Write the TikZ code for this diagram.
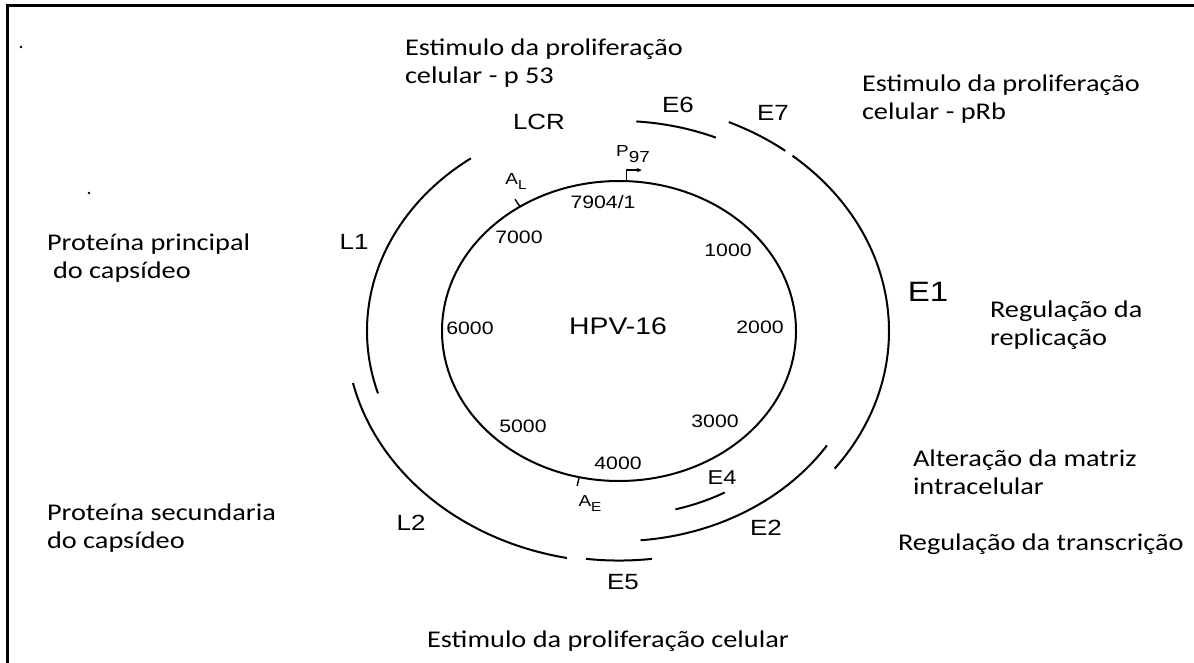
\documentclass[tikz,border=0pt]{standalone}
\usepackage{fontspec}
\setmainfont{Carlito}[FakeStretch=1.18]
\newfontfamily\genefont{Liberation Sans}[FakeStretch=1.18]
\usetikzlibrary{arrows.meta}

\begin{document}
\begin{tikzpicture}[x=1pt, y=-1pt, line width=2pt,
    note/.style = {inner sep=0pt, align=left, anchor=west, font=\fontsize{24}{28}\selectfont},
    gene/.style = {inner sep=0pt, font=\genefont\fontsize{22}{26}\selectfont},
    num/.style = {inner sep=0pt, font=\genefont\fontsize{18}{20}\selectfont},
    site/.style = {inner sep=0pt, font=\genefont\fontsize{16}{18}\selectfont}]
  \useasboundingbox (0,0) rectangle (1194,663);
  % frame and stray dots
  \draw[line width=3.3pt] (7.5,663) -- (7.5,5.5) -- (1194,5.5);
  \fill (21,47) circle (1.3);
  \fill (89,193) circle (1.3);

  % genome circle
  \coordinate (c) at (619,331);
  \draw (c) ellipse [x radius=177, y radius=150];
  \node[gene, font=\genefont\fontsize{24}{28}\selectfont] (hpv) at (618,326) {HPV-16};

  % open reading frames: radius/start/end
  \foreach \rad/\a/\b in {248/-86/-67, 270/-66/-52, 270/-50/37, 248/33/85,
                          218/61/75, 271/83/97, 273/101/167, 252/163/234}
    \draw (c) ++(\a:{\rad} and {0.847*\rad}) arc [start angle=\a, end angle=\b, x radius=\rad, y radius=0.847*\rad];

  % promoter and polyA sites
  \draw[line width=1.4pt, -{Stealth[length=5pt, width=4.5pt]}] (c) ++(-87.5:177 and 150) |- ++(15,-11);
  \draw[line width=1.4pt] (c) ++(-124:177 and 150) -- ++(-124:9 and 9);
  \draw[line width=1.4pt] (c) ++(103:177 and 150) -- ++(103:9 and 9);
  \node[site] (p97) at (633,154) {P\raisebox{-6pt}{97}};
  \node[site] (al) at (516,181) {A\raisebox{-5pt}{\fontsize{13}{14}\selectfont L}};
  \node[site] (ae) at (590,503) {A\raisebox{-5pt}{\fontsize{13}{14}\selectfont E}};

  % positions
  \node[num] (n0) at (603,202) {7904/1};
  \node[num] (n1) at (728,250) {1000};
  \node[num] (n2) at (760,327) {2000};
  \node[num] (n3) at (715,421) {3000};
  \node[num] (n4) at (618,463) {4000};
  \node[num] (n5) at (523,426) {5000};
  \node[num] (n6) at (470,328) {6000};
  \node[num] (n7) at (519,237) {7000};

  % genes
  \node[gene] (lcr) at (539,122) {LCR};
  \node[gene] (e6) at (678,105) {E6};
  \node[gene] (e7) at (773,113) {E7};
  \node[gene, font=\genefont\fontsize{28}{30}\selectfont] (e1) at (928,292) {E1};
  \node[gene, font=\genefont\fontsize{20}{24}\selectfont] (e4) at (722,478) {E4};
  \node[gene] (e2) at (766,528) {E2};
  \node[gene] (e5) at (623,582) {E5};
  \node[gene] (l2) at (411,523) {L2};
  \node[gene] (l1) at (354,242) {L1};

  % functions
  \node[note] (p53) at (404,63) {Estimulo da proliferação\\celular - p 53};
  \node[note] (prb) at (861,99) {Estimulo da proliferação\\celular - pRb};
  \node[note] (maj) at (46,258) {Proteína principal\\\hspace*{6pt}do capsídeo};
  \node[note] (rep) at (989,325) {Regulação da\\replicação};
  \node[note] (mat) at (912,472) {Alteração da matriz\\intracelular};
  \node[note] (mnr) at (46,528) {Proteína secundaria\\do capsídeo};
  \node[note] (tra) at (897,544) {Regulação da transcrição};
  \node[note, anchor=center] (pro) at (608,641) {Estimulo da proliferação celular};
\end{tikzpicture}
\end{document}
